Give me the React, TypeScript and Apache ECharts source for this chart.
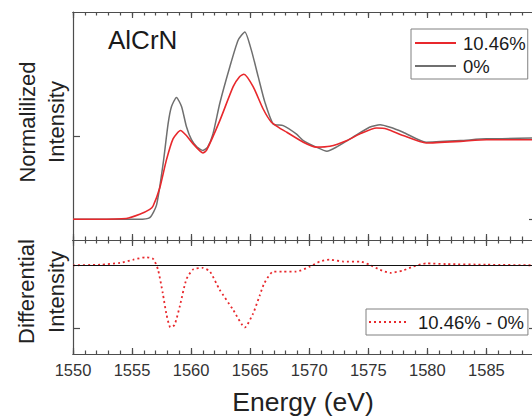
import React, { useEffect, useRef } from "react";
import * as echarts from "echarts";

// Cr L-edge spectra, normalized
const energyGray = [1550, 1552, 1554, 1555.5, 1556.5, 1557.07, 1557.63, 1558.05, 1558.34, 1558.76, 1559.19, 1559.6, 1560.03, 1560.5, 1561.0, 1561.4, 1561.85, 1562.43, 1563.28, 1563.98, 1564.55, 1565.1, 1565.68, 1566.25, 1566.95, 1567.8, 1568.9, 1569.5, 1570.6, 1571.5, 1572.3, 1573.7, 1575.1, 1576.0, 1576.85, 1577.95, 1579.9, 1582.8, 1585.0, 1589.2];
const intensityGray = [0.0, 0.0, 0.0, 0.0, 0.02, 0.17, 0.67, 1.15, 1.36, 1.47, 1.36, 1.12, 0.96, 0.87, 0.83, 0.87, 1.03, 1.4, 1.84, 2.16, 2.26, 2.04, 1.72, 1.41, 1.15, 1.13, 1.03, 0.95, 0.87, 0.82, 0.87, 0.99, 1.11, 1.14, 1.11, 1.05, 0.93, 0.95, 0.97, 0.98];

const energyRed = [1550, 1552, 1554.5, 1555.65, 1556.5, 1556.78, 1557.35, 1557.9, 1558.47, 1559.1, 1559.6, 1560.17, 1561.0, 1561.3, 1562.43, 1563.56, 1564.1, 1564.47, 1565.25, 1566.1, 1566.8, 1567.5, 1568.1, 1569.5, 1570.6, 1571.75, 1573.2, 1574.3, 1575.7, 1576.55, 1577.95, 1579.9, 1582.8, 1585.0, 1589.2];
const intensityRed = [0.0, 0.0, 0.01, 0.06, 0.12, 0.16, 0.38, 0.71, 0.97, 1.07, 1.01, 0.91, 0.8, 0.83, 1.19, 1.6, 1.72, 1.75, 1.6, 1.33, 1.17, 1.1, 1.05, 0.93, 0.87, 0.88, 0.95, 1.03, 1.1, 1.09, 1.01, 0.92, 0.94, 0.96, 0.96];

// Difference spectrum (10.46% minus 0%)
const energyDiff = [1550, 1552.3, 1554.0, 1555.1, 1556.2, 1556.8, 1557.2, 1557.6, 1557.9, 1558.25, 1558.6, 1559.05, 1559.6, 1560.2, 1561.0, 1561.6, 1562.4, 1563.55, 1564.55, 1565.25, 1565.8, 1566.2, 1566.95, 1567.8, 1568.9, 1570.05, 1570.9, 1571.75, 1572.9, 1574.3, 1575.1, 1576.0, 1576.85, 1577.95, 1578.8, 1579.9, 1581.6, 1585.0, 1589.2];
const intensityDiff = [0.0, 0.005, 0.02, 0.045, 0.064, 0.05, -0.035, -0.22, -0.38, -0.49, -0.47, -0.32, -0.11, -0.03, -0.02, -0.05, -0.19, -0.35, -0.49, -0.38, -0.24, -0.14, -0.05, -0.05, -0.05, -0.01, 0.03, 0.045, 0.03, 0.03, 0.005, -0.035, -0.06, -0.04, -0.01, 0.015, 0.01, 0.005, 0.0];

const majorTicks = [1550, 1555, 1560, 1565, 1570, 1575, 1580, 1585];
const minorTicks = Array.from({ length: 40 }, (_, i) => 1550 + i);

const X_MIN = 1550;
const X_MAX = 1589.2;

const FONT = "'Liberation Sans', Arial, Helvetica, sans-serif";
const RED = "#e8282c";
const GRAY = "#6f6f6f";
const AXIS = "#4d4d4d";

const zip = (xs: number[], ys: number[]) => xs.map((x, i) => [x, ys[i]]);

function xAxisFor(gridIndex: number, position: "top" | "bottom", values: number[], len: number, labels: boolean) {
  return {
    type: "value",
    gridIndex,
    position,
    min: X_MIN,
    max: X_MAX,
    axisLine: { show: true, onZero: false, lineStyle: { color: AXIS, width: 1.2 } },
    axisTick: { show: true, inside: true, length: len, customValues: values, lineStyle: { color: AXIS, width: 1.2 } },
    axisLabel: labels
      ? {
          show: true,
          customValues: majorTicks,
          formatter: (v: number) => String(v),
          margin: 7,
          color: "#333",
          fontSize: 16.5,
          fontFamily: FONT,
        }
      : { show: false },
    splitLine: { show: false },
  };
}

function yAxisFor(gridIndex: number, position: "left" | "right", min: number, max: number, ticks: number[]) {
  return {
    type: "value",
    gridIndex,
    position,
    min,
    max,
    axisLine: { show: true, onZero: false, lineStyle: { color: AXIS, width: 1.2 } },
    axisTick: { show: true, inside: true, length: 7, customValues: ticks, lineStyle: { color: AXIS, width: 1.2 } },
    axisLabel: { show: false },
    splitLine: { show: false },
  };
}

export default function App() {
  const ref = useRef<HTMLDivElement>(null);

  useEffect(() => {
    if (!ref.current) return;
    const chart = echarts.init(ref.current, undefined, { renderer: "svg" });
    chart.setOption({
      animation: false,
      backgroundColor: "#fff",
      grid: [
        { left: 73, top: 12, right: 24, height: 228 },
        { left: 73, top: 240, right: 24, height: 114 },
      ],
      xAxis: [
        xAxisFor(0, "bottom", majorTicks, 6, false),
        xAxisFor(0, "bottom", minorTicks, 3.5, false),
        xAxisFor(0, "top", majorTicks, 6, false),
        xAxisFor(0, "top", minorTicks, 3.5, false),
        xAxisFor(1, "top", majorTicks, 6, false),
        xAxisFor(1, "top", minorTicks, 3.5, false),
        xAxisFor(1, "bottom", majorTicks, 6, true),
        xAxisFor(1, "bottom", minorTicks, 3.5, false),
      ],
      yAxis: [
        yAxisFor(0, "left", -0.25, 2.5, [1]),
        yAxisFor(0, "right", -0.25, 2.5, [0]),
        yAxisFor(1, "left", -0.7, 0.2, [-0.5]),
        yAxisFor(1, "right", -0.7, 0.2, [-0.5]),
      ],
      legend: [
        {
          data: ["10.46%", "0%"],
          orient: "vertical",
          left: 411,
          top: 29,
          padding: [4, 2, 3, 3],
          itemGap: 3,
          itemWidth: 41,
          itemHeight: 14,
          itemStyle: { opacity: 0 },
          borderColor: "#808080",
          borderWidth: 1,
          backgroundColor: "#fff",
          textStyle: { fontFamily: FONT, fontSize: 18.5, color: "#1a1a1a", lineHeight: 20, padding: [0, 0, 0, 2] },
        },
        {
          data: ["10.46% - 0%"],
          orient: "vertical",
          left: 366,
          top: 309,
          padding: [3, 4, 3, 2],
          itemWidth: 39,
          itemHeight: 14,
          itemStyle: { opacity: 0 },
          borderColor: "#808080",
          borderWidth: 1,
          backgroundColor: "#fff",
          textStyle: { fontFamily: FONT, fontSize: 18.5, color: "#1a1a1a", lineHeight: 20, padding: [0, 0, 0, 5] },
        },
      ],
      series: [
        {
          name: "0%",
          type: "line",
          xAxisIndex: 0,
          yAxisIndex: 0,
          data: zip(energyGray, intensityGray),
          symbol: "none",
          smooth: 0.2,
          lineStyle: { color: GRAY, width: 1.5 },
          itemStyle: { color: GRAY },
          z: 2,
        },
        {
          name: "10.46%",
          type: "line",
          xAxisIndex: 0,
          yAxisIndex: 0,
          data: zip(energyRed, intensityRed),
          symbol: "none",
          smooth: 0.2,
          lineStyle: { color: RED, width: 1.6 },
          itemStyle: { color: RED },
          z: 3,
        },
        {
          name: "10.46% - 0%",
          type: "line",
          xAxisIndex: 6,
          yAxisIndex: 2,
          data: zip(energyDiff, intensityDiff),
          symbol: "none",
          smooth: 0.2,
          lineStyle: { color: RED, width: 1.8, type: [2, 3] },
          itemStyle: { color: RED },
          markLine: {
            silent: true,
            symbol: ["none", "none"],
            label: { show: false },
            lineStyle: { color: "#111", type: "solid", width: 1.2 },
            data: [{ yAxis: 0 }],
          },
          z: 3,
        },
      ],
      graphic: [
        { type: "text", left: 108, top: 27, style: { text: "AlCrN", font: `26px ${FONT}`, fill: "#1a1a1a" } },
        { type: "text", x: 27, y: 122, rotation: Math.PI / 2, style: { text: "Normalilized", font: `22px ${FONT}`, fill: "#222", align: "center", verticalAlign: "middle" } },
        { type: "text", x: 56, y: 122, rotation: Math.PI / 2, style: { text: "Intensity", font: `22px ${FONT}`, fill: "#222", align: "center", verticalAlign: "middle" } },
        { type: "text", x: 26, y: 291.5, rotation: Math.PI / 2, style: { text: "Differential", font: `22px ${FONT}`, fill: "#222", align: "center", verticalAlign: "middle" } },
        { type: "text", x: 56, y: 292, rotation: Math.PI / 2, style: { text: "Intensity", font: `22px ${FONT}`, fill: "#222", align: "center", verticalAlign: "middle" } },
        { type: "text", x: 303, y: 402, style: { text: "Energy (eV)", font: `26.5px ${FONT}`, fill: "#222", align: "center", verticalAlign: "middle" } },
      ],
    });
    return () => chart.dispose();
  }, []);

  return (
    <div style={{ position: "fixed", left: 0, top: 0, width: 532, height: 419, overflow: "hidden", background: "#fff" }}>
      <div ref={ref} style={{ width: 560, height: 419 }} />
    </div>
  );
}
